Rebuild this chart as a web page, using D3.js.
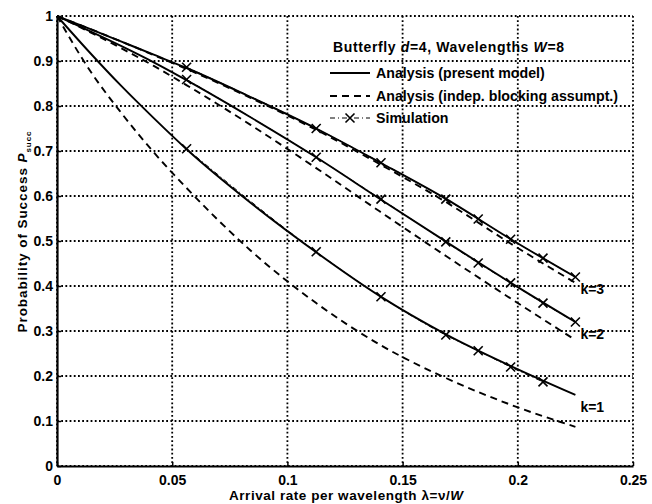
<!DOCTYPE html>
<html>
<head>
<meta charset="utf-8">
<script src="https://cdn.jsdelivr.net/npm/d3@7"></script>
<style>
  body { margin: 0; background: #fff; }
  svg text { font-family: "Liberation Sans", Arial, sans-serif; fill: #000; }
</style>
</head>
<body>
<div id="chart"></div>
<script>
// Analysis curves
const lambdaAnalysis = [0, 0.014, 0.028, 0.042, 0.056, 0.084, 0.1125, 0.14, 0.169, 0.197, 0.225];
const presentK1 = [1, 0.920, 0.844, 0.773, 0.705, 0.585, 0.475, 0.378, 0.292, 0.222, 0.158];
const presentK2 = [1, 0.967, 0.933, 0.897, 0.858, 0.775, 0.686, 0.594, 0.498, 0.407, 0.320];
const presentK3 = [1, 0.972, 0.943, 0.914, 0.885, 0.820, 0.750, 0.675, 0.593, 0.504, 0.420];
const indepK1 = [1, 0.881, 0.784, 0.697, 0.619, 0.479, 0.362, 0.270, 0.195, 0.136, 0.087];
const indepK2 = [1, 0.965, 0.928, 0.889, 0.847, 0.758, 0.662, 0.566, 0.466, 0.372, 0.280];
const indepK3 = [1, 0.972, 0.943, 0.913, 0.883, 0.818, 0.747, 0.671, 0.586, 0.494, 0.407];

// Simulation points
const lambdaSim = [0.05625, 0.1125, 0.140625, 0.16875, 0.182813, 0.196875, 0.210938, 0.225];
const simK1 = [0.705, 0.476, 0.376, 0.291, 0.256, 0.220, 0.187];
const simK2 = [0.859, 0.686, 0.593, 0.498, 0.451, 0.407, 0.362, 0.320];
const simK3 = [0.886, 0.750, 0.674, 0.593, 0.549, 0.504, 0.462, 0.420];

const curveLabels = ["k=1", "k=2", "k=3"];
const xTicks = [0, 0.05, 0.1, 0.15, 0.2, 0.25];
const yTicks = [0, 0.1, 0.2, 0.3, 0.4, 0.5, 0.6, 0.7, 0.8, 0.9, 1];

const W = 652, H = 504;
const margin = { top: 16, right: 19, bottom: 38, left: 57 };
const width = W - margin.left - margin.right;
const height = H - margin.top - margin.bottom;

const svg = d3.select('#chart').append('svg')
    .attr('width', W)
    .attr('height', H);
svg.append('rect').attr('width', W).attr('height', H).attr('fill', '#fff');

const g = svg.append('g')
    .attr('transform', `translate(${margin.left},${margin.top})`);

const x = d3.scaleLinear().domain([0, 0.25]).range([0, width]);
const y = d3.scaleLinear().domain([0, 1]).range([height, 0]);
const fmt = d => String(+d.toFixed(2));

// Dotted grid
g.append('g').selectAll('line')
    .data(xTicks)
    .join('line')
    .attr('x1', d => x(d)).attr('x2', d => x(d))
    .attr('y1', 0).attr('y2', height)
    .style('stroke', '#000')
    .style('stroke-width', '1.8px')
    .style('stroke-dasharray', '1.8 2.4');
g.append('g').selectAll('line')
    .data(yTicks)
    .join('line')
    .attr('x1', 0).attr('x2', width)
    .attr('y1', d => y(d)).attr('y2', d => y(d))
    .style('stroke', '#000')
    .style('stroke-width', '1.8px')
    .style('stroke-dasharray', '1.8 2.4');

// Axes
const xAxis = g.append('g')
    .attr('transform', `translate(0,${height})`)
    .call(d3.axisBottom(x).tickValues(xTicks).tickFormat(fmt)
        .tickSizeInner(-4).tickSizeOuter(0).tickPadding(9));
const yAxis = g.append('g')
    .call(d3.axisLeft(y).tickValues(yTicks).tickFormat(fmt)
        .tickSizeInner(-4).tickSizeOuter(0).tickPadding(4));
[xAxis, yAxis].forEach(a => {
    a.select('.domain').attr('stroke-width', 2.2);
    a.selectAll('.tick line').attr('stroke-width', 1.5);
    a.selectAll('text')
        .style('font-size', '14px')
        .style('font-weight', 'bold');
});

// Curves
const line = d3.line()
    .x(d => x(d[0]))
    .y(d => y(d[1]))
    .curve(d3.curveMonotoneX);
const zipPts = (xs, ys) => ys.map((v, i) => [xs[i], v]);

[presentK1, presentK2, presentK3].forEach(vals => {
    g.append('path')
        .attr('d', line(zipPts(lambdaAnalysis, vals)))
        .attr('fill', 'none')
        .attr('stroke', '#000')
        .attr('stroke-width', 1.9);
});
[indepK1, indepK2, indepK3].forEach(vals => {
    g.append('path')
        .attr('d', line(zipPts(lambdaAnalysis, vals)))
        .attr('fill', 'none')
        .attr('stroke', '#000')
        .attr('stroke-width', 1.9)
        .attr('stroke-dasharray', '7,5');
});

const xMark = 'M-4.5,-4.5L4.5,4.5M-4.5,4.5L4.5,-4.5';
[simK1, simK2, simK3].forEach(vals => {
    const pts = zipPts(lambdaSim, vals);
    g.append('path')
        .attr('d', line(pts))
        .attr('fill', 'none')
        .attr('stroke', '#000')
        .attr('stroke-width', 1)
        .attr('stroke-dasharray', '5,3,1,3');
    g.append('g').selectAll('path')
        .data(pts)
        .join('path')
        .attr('transform', d => `translate(${x(d[0])},${y(d[1])})`)
        .attr('d', xMark)
        .attr('stroke', '#000')
        .attr('stroke-width', 1.6);
});

// k labels at the curve ends
[presentK1, presentK2, presentK3].forEach((vals, i) => {
    g.append('text')
        .attr('x', x(lambdaAnalysis[lambdaAnalysis.length - 1]) + 5)
        .attr('y', y(vals[vals.length - 1]) + 17)
        .style('font-size', '14px')
        .style('font-weight', 'bold')
        .text(curveLabels[i]);
});

// Legend
const legend = svg.append('g');
const title = legend.append('text')
    .attr('x', 333).attr('y', 52)
    .attr('textLength', 231)
    .style('font-size', '14px')
    .style('font-weight', 'bold');
title.append('tspan').text('Butterfly ');
title.append('tspan').style('font-style', 'italic').text('d');
title.append('tspan').text('=4, Wavelengths ');
title.append('tspan').style('font-style', 'italic').text('W');
title.append('tspan').text('=8');

const legendRows = [
    { label: 'Analysis (present model)', dash: null, y: 73 },
    { label: 'Analysis (indep. blocking assumpt.)', dash: '7,5', y: 96 },
    { label: 'Simulation', dash: '5,3,1,3', y: 118 }
];
legendRows.forEach((r, i) => {
    legend.append('line')
        .attr('x1', 330).attr('x2', 370)
        .attr('y1', r.y).attr('y2', r.y)
        .attr('stroke', '#000')
        .attr('stroke-width', i === 2 ? 1 : 1.9)
        .attr('stroke-dasharray', r.dash);
    if (i === 2) {
        legend.append('path')
            .attr('transform', `translate(350,${r.y})`)
            .attr('d', xMark)
            .attr('stroke', '#000')
            .attr('stroke-width', 1.6);
    }
    legend.append('text')
        .attr('x', 376).attr('y', r.y + 5)
        .style('font-size', '14.2px')
        .style('font-weight', 'bold')
        .text(r.label);
});

// Axis titles
const xt = svg.append('text')
    .attr('x', 346).attr('y', 500)
    .attr('text-anchor', 'middle')
    .attr('textLength', 234)
    .style('font-size', '13.5px')
    .style('font-weight', 'bold');
xt.append('tspan').text('Arrival rate per wavelength λ=ν/');
xt.append('tspan').style('font-style', 'italic').text('W');

const yt = svg.append('text')
    .attr('transform', 'translate(27,232) rotate(-90)')
    .attr('text-anchor', 'middle')
    .attr('textLength', 201)
    .style('font-size', '13.5px')
    .style('font-weight', 'bold');
yt.append('tspan').text('Probability of Success ');
yt.append('tspan').style('font-style', 'italic').text('P');
yt.append('tspan').attr('dy', 4).style('font-size', '8px').text('succ');
</script>
</body>
</html>
